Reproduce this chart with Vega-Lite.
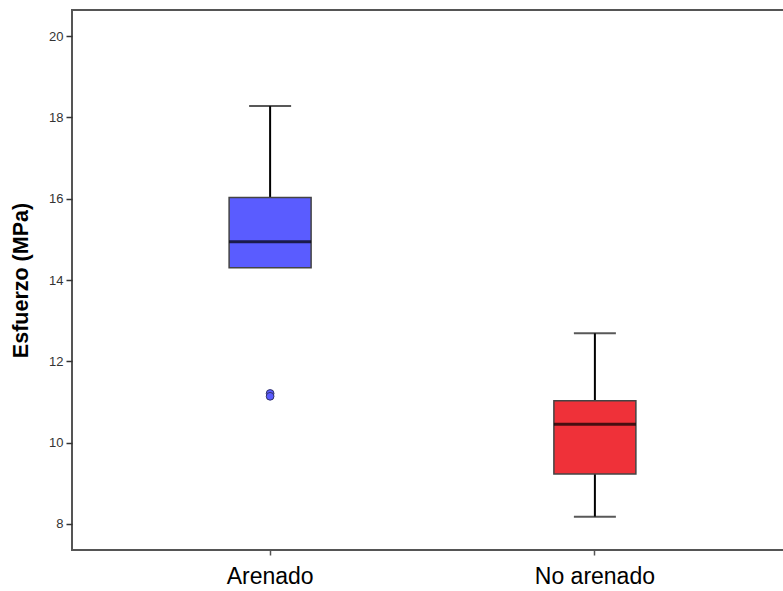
{
  "$schema": "https://vega.github.io/schema/vega-lite/v6.json",
  "autosize": {"type": "none"},
  "padding": {"left": 72, "top": 10, "right": 0, "bottom": 41},
  "width": 721,
  "height": 540,
  "background": "white",
  "config": {
    "view": {"stroke": "#555555", "strokeWidth": 2},
    "font": "Liberation Sans"
  },
  "datasets": {
    "stats": [
      {"grupo": "Arenado", "lower": 14.3, "q1": 14.3, "median": 14.94, "q3": 16.03, "upper": 18.28},
      {"grupo": "No arenado", "lower": 8.18, "q1": 9.23, "median": 10.45, "q3": 11.03, "upper": 12.69}
    ],
    "outliers": [
      {"grupo": "Arenado", "valor": 11.21},
      {"grupo": "Arenado", "valor": 11.14}
    ]
  },
  "encoding": {
    "x": {
      "field": "grupo",
      "type": "nominal",
      "sort": ["Arenado", "No arenado"],
      "scale": {"paddingInner": 0, "paddingOuter": 0.11},
      "axis": {
        "title": null,
        "labelAngle": 0,
        "labelFontSize": 23,
        "labelColor": "#000000",
        "labelPadding": 10,
        "domain": false,
        "tickSize": 5,
        "tickColor": "#555555",
        "tickWidth": 1.5
      }
    }
  },
  "layer": [
    {
      "data": {"name": "stats"},
      "mark": {"type": "rule", "color": "#000000", "strokeWidth": 2},
      "encoding": {
        "y": {
          "field": "lower",
          "type": "quantitative",
          "scale": {"domain": [7.36, 20.64], "nice": false, "zero": false},
          "axis": {
            "title": "Esfuerzo (MPa)",
            "titleFontSize": 21.5,
            "titleFontWeight": "bold",
            "titleColor": "#000000",
            "titlePadding": 16,
            "values": [8, 10, 12, 14, 16, 18, 20],
            "labelFontSize": 13,
            "labelColor": "#333333",
            "labelPadding": 3,
            "tickSize": 6,
            "tickColor": "#333333",
            "tickWidth": 1.5,
            "grid": false,
            "domain": false
          }
        },
        "y2": {"field": "upper"}
      }
    },
    {
      "data": {"name": "stats"},
      "mark": {"type": "bar", "size": 82, "stroke": "#444444", "strokeWidth": 1.5},
      "encoding": {
        "y": {"field": "q1", "type": "quantitative"},
        "y2": {"field": "q3"},
        "color": {
          "field": "grupo",
          "type": "nominal",
          "scale": {"domain": ["Arenado", "No arenado"], "range": ["#5a5cff", "#ef3139"]},
          "legend": null
        }
      }
    },
    {
      "data": {"name": "stats"},
      "mark": {"type": "tick", "size": 82, "thickness": 3, "color": "#000000"},
      "encoding": {"y": {"field": "median", "type": "quantitative"}}
    },
    {
      "data": {"name": "stats"},
      "mark": {"type": "tick", "size": 42, "thickness": 2, "color": "#111111"},
      "encoding": {"y": {"field": "upper", "type": "quantitative"}}
    },
    {
      "data": {"name": "stats"},
      "transform": [{"filter": "datum.lower < datum.q1"}],
      "mark": {"type": "tick", "size": 42, "thickness": 2, "color": "#111111"},
      "encoding": {"y": {"field": "lower", "type": "quantitative"}}
    },
    {
      "data": {"name": "outliers"},
      "mark": {"type": "point", "filled": true, "size": 60, "color": "#5a5cff", "stroke": "#333366", "strokeWidth": 1, "opacity": 1},
      "encoding": {"y": {"field": "valor", "type": "quantitative"}}
    }
  ]
}
